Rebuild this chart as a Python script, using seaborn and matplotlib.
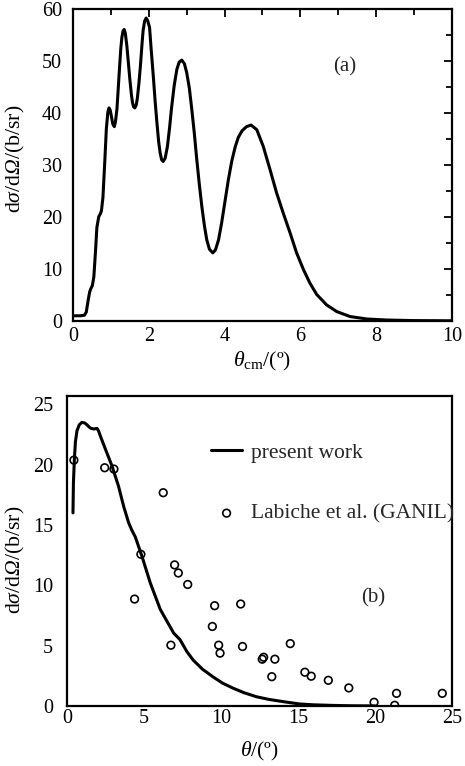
import numpy as np
import pandas as pd
import matplotlib
matplotlib.use('Agg')
import matplotlib.pyplot as plt
import seaborn as sns
from matplotlib.ticker import MultipleLocator

# ---------------- data: panel (a) ----------------
theta_a = [0.0, 0.1, 0.2, 0.3, 0.35, 0.40, 0.44, 0.47, 0.51, 0.55, 0.59, 0.63, 0.68, 0.72,
           0.75, 0.79, 0.84, 0.88, 0.92, 0.95, 0.98, 1.01, 1.05, 1.09, 1.12, 1.16, 1.20,
           1.23, 1.26, 1.29, 1.32, 1.35, 1.38, 1.42, 1.46, 1.50, 1.54, 1.57, 1.60, 1.63,
           1.67, 1.70, 1.74, 1.78, 1.82, 1.85, 1.89, 1.93, 1.97, 2.02, 2.06, 2.12, 2.17,
           2.21, 2.26, 2.30, 2.34, 2.38, 2.43, 2.49, 2.55, 2.60, 2.67, 2.74, 2.80, 2.87,
           2.94, 3.00, 3.07, 3.13, 3.20, 3.26, 3.33, 3.40, 3.47, 3.53, 3.60, 3.69, 3.76,
           3.84, 3.92, 4.01, 4.10, 4.19, 4.28, 4.36, 4.46, 4.58, 4.70, 4.85, 5.02, 5.20,
           5.37, 5.55, 5.73, 5.90, 6.08, 6.25, 6.43, 6.69, 6.96, 7.31, 7.75, 8.28, 9.0, 10.0]
sigma_a = [1.0, 1.0, 1.0, 1.1, 1.7, 4.0, 5.6, 6.2, 6.8, 8.5, 13.0, 18.0, 20.1, 20.6,
           21.2, 23.8, 30.9, 37.0, 40.2, 41.0, 40.6, 39.5, 37.9, 37.4, 38.3, 40.8, 45.5,
           49.0, 52.3, 54.6, 55.8, 56.1, 55.4, 53.0, 49.8, 46.5, 43.6, 42.0, 41.2, 41.0,
           41.6, 43.0, 45.8, 49.2, 53.2, 55.9, 57.7, 58.3, 57.8, 56.5, 52.5, 47.0, 42.0,
           38.5, 34.5, 32.3, 31.0, 30.7, 31.3, 33.5, 37.3, 41.0, 45.3, 48.4, 49.8, 50.2,
           49.5, 47.8, 44.8, 41.0, 36.2, 31.5, 26.5, 22.0, 18.2, 15.6, 13.8, 13.1, 13.7,
           15.6, 18.8, 23.0, 27.2, 30.8, 33.5, 35.3, 36.6, 37.4, 37.7, 36.8, 33.6, 29.1,
           24.7, 20.7, 16.9, 13.1, 9.9, 7.3, 5.1, 3.1, 1.8, 0.85, 0.38, 0.18, 0.07, 0.03]

# ---------------- data: panel (b) ----------------
theta_b = [0.39, 0.42, 0.48, 0.55, 0.65, 0.80, 0.97, 1.15, 1.30, 1.45, 1.56, 1.75, 1.95,
           2.05, 2.16, 2.49, 2.92, 3.35, 3.68, 4.00, 4.20, 4.44, 4.87, 5.41, 6.06, 6.93,
           7.34, 7.79, 8.20, 8.80, 9.50, 10.1, 10.8, 11.5, 12.3, 13.1, 14.05, 15.1, 16.0,
           17.3, 18.5, 20.0]
sigma_b = [16.0, 18.5, 20.4, 21.9, 22.8, 23.3, 23.5, 23.45, 23.3, 23.1, 23.0, 22.95, 23.0,
           22.8, 22.4, 21.3, 19.9, 18.2, 16.55, 15.2, 14.6, 14.0, 12.4, 10.2, 8.0, 6.04,
           5.5, 4.5, 3.8, 3.05, 2.4, 1.9, 1.47, 1.1, 0.77, 0.55, 0.36, 0.17, 0.1,
           0.05, 0.02, 0.01]

theta_exp = [0.45, 2.45, 3.05, 6.25, 4.80, 6.99, 7.23, 7.84, 4.39, 9.59, 11.28, 9.44,
             6.75, 9.85, 9.94, 11.40, 14.50, 12.68, 12.77, 13.50, 13.30, 15.45, 15.86,
             16.97, 18.30, 19.94, 21.40, 21.28, 24.37]
sigma_exp = [20.37, 19.74, 19.63, 17.67, 12.57, 11.69, 11.02, 10.07, 8.86, 8.31, 8.45, 6.59,
             5.04, 5.04, 4.38, 4.93, 5.17, 3.88, 4.04, 3.88, 2.43, 2.80, 2.47,
             2.13, 1.50, 0.31, 1.05, 0.06, 1.05]

label_line = "present work"
label_exp = "Labiche et al. (GANIL)"

# ---------------- style ----------------
sns.set_theme(style='white')
plt.rcParams['font.family'] = ['Liberation Serif', 'DejaVu Serif']
plt.rcParams['mathtext.fontset'] = 'custom'
plt.rcParams['mathtext.rm'] = 'Liberation Serif:italic'
plt.rcParams['mathtext.it'] = 'Liberation Serif:italic'
plt.rcParams['mathtext.sf'] = 'Liberation Serif'
plt.rcParams['axes.linewidth'] = 1.6
plt.rcParams['axes.edgecolor'] = 'black'

FS_TICK = 14.5
FS_LAB = 15.7
FS_LEG = 15.5
ylab = r'd$\sigma$/d$\Omega$/(b/sr)'

fig = plt.figure(figsize=(4.65, 7.66), dpi=100)
ax1 = fig.add_axes([0.157, 0.581, 0.815, 0.407])
ax2 = fig.add_axes([0.144, 0.0783, 0.828, 0.405])

# ---- panel (a)
df_a = pd.DataFrame({'theta': theta_a, 'sigma': sigma_a})
sns.lineplot(data=df_a, x='theta', y='sigma', ax=ax1, color='black', linewidth=2.2,
             estimator=None, sort=False)
ax1.set_xlim(0, 10)
ax1.set_ylim(0, 60)
ax1.xaxis.set_major_locator(MultipleLocator(2))
ax1.xaxis.set_minor_locator(MultipleLocator(1))
ax1.yaxis.set_major_locator(MultipleLocator(10))
ax1.yaxis.set_minor_locator(MultipleLocator(5))
ax1.tick_params(which='both', direction='in', top=True, right=True, colors='black',
                labelsize=FS_TICK, width=1.3)
ax1.tick_params(which='major', length=6)
ax1.tick_params(which='minor', length=4)
ax1.tick_params(axis='y', pad=8)
ax1.tick_params(axis='x', pad=4)
ax1.set_xlabel(r'$\theta_{\mathsf{cm}}$/(º)', fontsize=FS_LAB, color='black', labelpad=3)
ax1.set_ylabel(ylab, fontsize=FS_LAB, color='black')
ax1.yaxis.set_label_coords(-0.122, 0.52)
ax1.text(0.716, 0.816, '(a)', fontsize=15, ha='center', va='center', transform=ax1.transAxes)

# ---- panel (b)
df_b = pd.DataFrame({'theta': theta_b, 'sigma': sigma_b})
df_e = pd.DataFrame({'theta': theta_exp, 'sigma': sigma_exp})
sns.lineplot(data=df_b, x='theta', y='sigma', ax=ax2, color='black', linewidth=2.2,
             estimator=None, sort=False, label=label_line)
sns.scatterplot(data=df_e, x='theta', y='sigma', ax=ax2, marker='o', s=30,
                facecolors='none', edgecolor='black', linewidth=1.2, label=label_exp)
ax2.set_xlim(0, 25)
ax2.set_ylim(0, 25.7)
ax2.xaxis.set_major_locator(MultipleLocator(5))
ax2.xaxis.set_minor_locator(MultipleLocator(1))
ax2.yaxis.set_major_locator(MultipleLocator(5))
ax2.yaxis.set_minor_locator(MultipleLocator(1))
ax2.tick_params(which='both', direction='in', top=False, right=False, colors='black',
                labelsize=FS_TICK, width=1.3)
ax2.tick_params(axis='y', which='major', length=8.6, pad=10)
ax2.tick_params(axis='y', which='minor', length=5)
ax2.tick_params(axis='x', which='major', length=5.8, pad=2)
ax2.tick_params(axis='x', which='minor', length=3)
ax2.set_xlabel(r'$\theta$/(º)', fontsize=FS_LAB, color='black', labelpad=9)
ax2.set_ylabel(ylab, fontsize=FS_LAB, color='black')
ax2.yaxis.set_label_coords(-0.104, 0.47)
ax2.text(0.795, 0.35, '(b)', fontsize=15, ha='center', va='center', transform=ax2.transAxes)
leg = ax2.legend(loc='center left', bbox_to_anchor=(0.374, 0.718), frameon=False,
                 fontsize=FS_LEG, handlelength=1.45, handletextpad=0.42, labelspacing=1.9,
                 borderpad=0, borderaxespad=0, scatterpoints=1)

for ax in (ax1, ax2):
    for sp in ax.spines.values():
        sp.set_color('black')
        sp.set_linewidth(1.6)

fig.savefig('out.png', dpi=100)
